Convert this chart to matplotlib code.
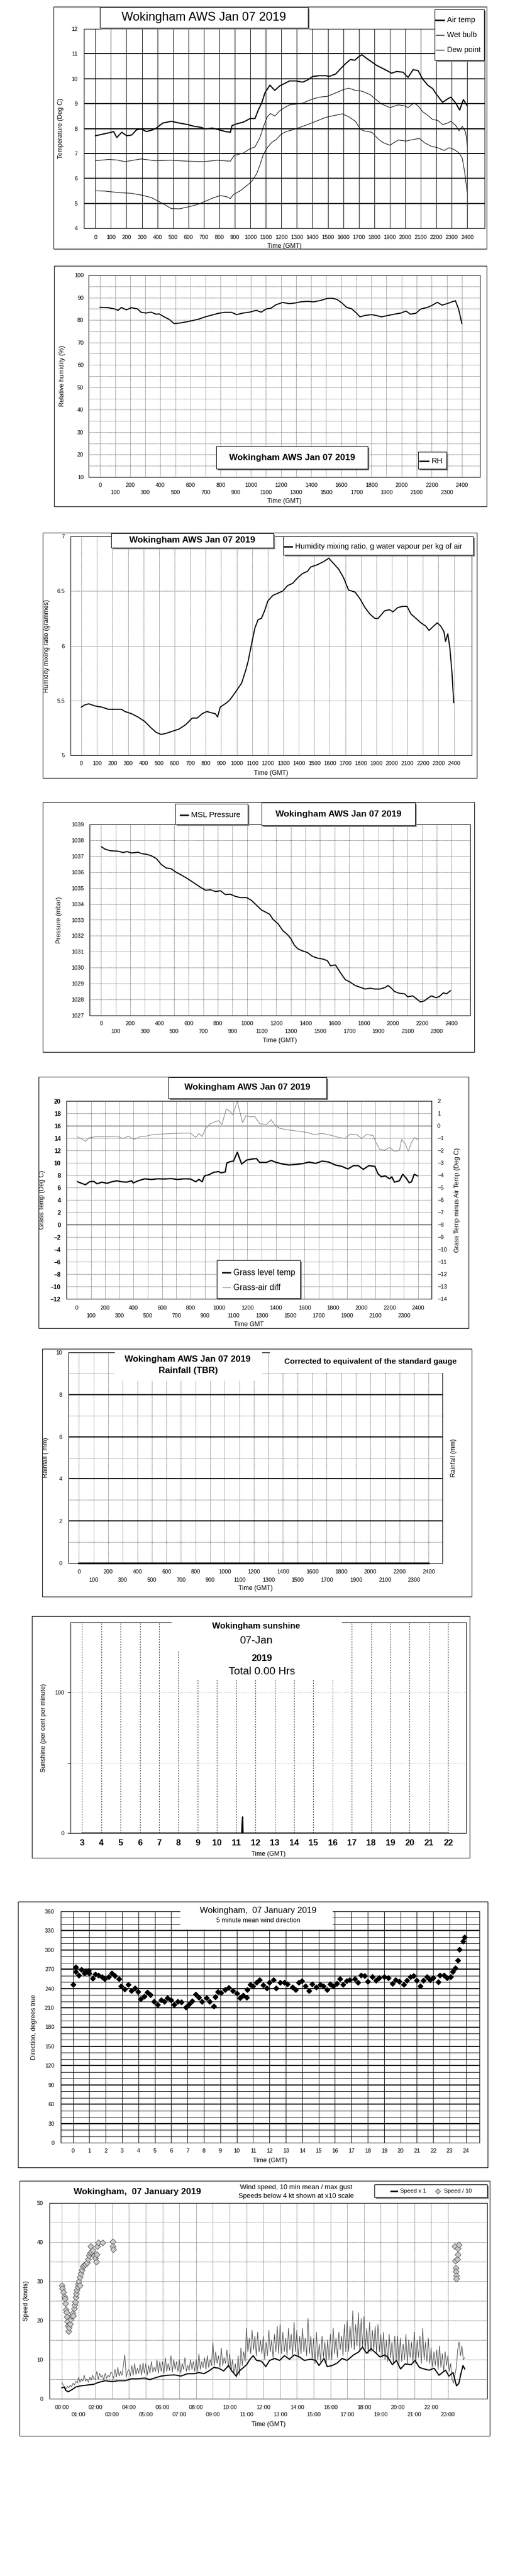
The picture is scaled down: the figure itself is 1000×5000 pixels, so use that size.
import numpy as np
import matplotlib
matplotlib.use("Agg")
import matplotlib.pyplot as plt
from matplotlib.patches import Rectangle
from matplotlib.lines import Line2D

plt.rcParams['font.family'] = ['Liberation Sans', 'DejaVu Sans']

# ---------------- data ----------------
# time axis of the AWS charts is hhmm on a 0..2400 scale
air_t = [0, 102, 117, 138, 170, 202, 234, 266, 297, 329, 372, 393, 435, 489, 542, 595, 637, 680, 712, 754,
         797, 839, 871, 882, 913, 956, 998, 1030, 1051, 1073, 1094, 1126, 1158, 1189, 1221, 1253, 1296, 1338, 1370, 1402,
         1444, 1487, 1508, 1551, 1582, 1614, 1646, 1674, 1699, 1720, 1752, 1784, 1816, 1848, 1880, 1912, 1944, 1986, 2018, 2050,
         2082, 2113, 2145, 2177, 2198, 2220, 2241, 2273, 2294, 2326, 2351, 2375, 2400]
air_temp = [7.71, 7.85, 7.88, 7.64, 7.85, 7.71, 7.74, 7.95, 7.98, 7.88, 7.95, 8.02, 8.22, 8.29, 8.22, 8.16, 8.09, 8.05, 7.98, 8.02,
            7.95, 7.88, 7.85, 8.12, 8.19, 8.26, 8.40, 8.40, 8.74, 9.02, 9.43, 9.74, 9.53, 9.71, 9.81, 9.91, 9.91, 9.86, 9.95, 10.09,
            10.12, 10.12, 10.09, 10.19, 10.40, 10.60, 10.77, 10.74, 10.88, 10.96, 10.81, 10.67, 10.53, 10.43, 10.33, 10.22, 10.29, 10.26, 10.05, 10.36,
            10.33, 9.98, 9.74, 9.60, 9.40, 9.22, 9.05, 9.19, 9.26, 9.02, 8.74, 9.16, 8.91]

wet_t = [0, 85, 138, 191, 255, 297, 382, 489, 595, 701, 786, 871, 896, 956, 998, 1030, 1062, 1083, 1109, 1130,
         1158, 1189, 1221, 1253, 1296, 1338, 1391, 1444, 1497, 1551, 1604, 1636, 1678, 1720, 1774, 1805, 1848, 1901, 1954, 1997,
         2018, 2056, 2082, 2113, 2145, 2177, 2209, 2241, 2273, 2294, 2326, 2347, 2368, 2390, 2400]
wet_bulb = [6.71, 6.76, 6.74, 6.67, 6.74, 6.78, 6.71, 6.73, 6.69, 6.67, 6.73, 6.69, 6.92, 7.02, 7.19, 7.26, 7.64, 8.05, 8.47, 8.60,
            8.50, 8.71, 8.84, 8.95, 8.98, 9.02, 9.16, 9.26, 9.29, 9.43, 9.57, 9.62, 9.53, 9.50, 9.36, 9.19, 8.98, 8.84, 8.95, 8.91,
            8.84, 9.03, 8.91, 8.67, 8.53, 8.36, 8.33, 8.16, 8.22, 8.29, 8.12, 7.91, 8.09, 7.85, 7.33]

dew_t = [0, 64, 149, 234, 297, 361, 404, 446, 489, 542, 595, 658, 712, 765, 807, 850, 871, 892, 935, 977,
         1009, 1041, 1062, 1083, 1109, 1136, 1168, 1200, 1232, 1274, 1317, 1370, 1423, 1487, 1540, 1593, 1636, 1678, 1710, 1731,
         1784, 1827, 1859, 1901, 1954, 2007, 2050, 2092, 2124, 2167, 2209, 2251, 2283, 2315, 2347, 2368, 2383, 2400]
dew_point = [5.50, 5.49, 5.43, 5.40, 5.33, 5.23, 5.09, 4.95, 4.79, 4.78, 4.85, 4.95, 5.09, 5.23, 5.31, 5.26, 5.19, 5.36, 5.50, 5.71,
             5.88, 6.19, 6.54, 6.95, 7.23, 7.43, 7.57, 7.78, 7.88, 7.95, 8.04, 8.16, 8.29, 8.45, 8.52, 8.59, 8.47, 8.29, 7.98, 7.91,
             7.85, 7.57, 7.43, 7.33, 7.54, 7.50, 7.56, 7.60, 7.43, 7.29, 7.23, 7.12, 7.23, 7.16, 7.02, 6.81, 6.26, 5.43]

rh_t = [0, 55, 98, 120, 142, 175, 207, 247, 273, 305, 338, 371, 393, 425, 458, 491, 524, 567, 611, 655,
        698, 742, 786, 829, 873, 906, 949, 993, 1036, 1069, 1102, 1135, 1167, 1211, 1255, 1298, 1331, 1375, 1418, 1462,
        1506, 1538, 1571, 1604, 1636, 1669, 1702, 1724, 1756, 1800, 1833, 1866, 1909, 1953, 1996, 2029, 2058, 2095, 2127, 2171,
        2204, 2237, 2269, 2302, 2335, 2357, 2378, 2400]
rh = [85.6, 85.5, 84.9, 84.3, 85.6, 84.5, 85.5, 85.0, 83.4, 83.1, 83.5, 82.6, 82.7, 81.4, 80.3, 78.4, 78.6, 79.1, 79.7, 80.4,
      81.4, 82.2, 83.0, 83.4, 83.4, 82.4, 83.1, 83.5, 84.3, 83.5, 84.9, 85.3, 86.8, 87.8, 87.3, 87.6, 88.1, 88.3, 88.1, 88.7,
      89.6, 89.7, 89.2, 87.6, 85.6, 85.0, 83.0, 81.4, 82.0, 82.4, 82.0, 81.4, 82.0, 82.6, 83.1, 84.0, 82.6, 83.0, 84.9, 85.6,
      86.6, 87.9, 86.6, 87.3, 88.1, 88.6, 84.9, 78.4]

mix_t = [0, 21, 47, 89, 131, 174, 216, 258, 280, 322, 364, 407, 449, 481, 513, 544, 587, 629, 672, 714,
         746, 778, 809, 831, 862, 877, 894, 936, 958, 989, 1032, 1059, 1074, 1095, 1117, 1138, 1159, 1180, 1201, 1233,
         1265, 1297, 1328, 1360, 1392, 1424, 1456, 1477, 1519, 1561, 1593, 1625, 1657, 1689, 1720, 1763, 1794, 1826, 1858, 1890,
         1911, 1953, 1985, 2006, 2038, 2070, 2097, 2123, 2155, 2186, 2218, 2239, 2261, 2292, 2314, 2335, 2345, 2360, 2373, 2386, 2398]
mix_ratio = [5.44, 5.46, 5.47, 5.45, 5.44, 5.42, 5.42, 5.42, 5.40, 5.38, 5.35, 5.31, 5.25, 5.21, 5.19, 5.20, 5.22, 5.24, 5.28, 5.34,
             5.34, 5.38, 5.40, 5.39, 5.38, 5.35, 5.44, 5.48, 5.51, 5.57, 5.66, 5.78, 5.86, 6.01, 6.16, 6.24, 6.25, 6.32, 6.41, 6.46,
             6.48, 6.50, 6.55, 6.57, 6.62, 6.66, 6.68, 6.72, 6.74, 6.77, 6.80, 6.75, 6.70, 6.62, 6.51, 6.49, 6.43, 6.35, 6.29, 6.25,
             6.25, 6.32, 6.33, 6.31, 6.35, 6.36, 6.36, 6.29, 6.25, 6.21, 6.18, 6.14, 6.17, 6.21, 6.18, 6.13, 6.04, 6.11, 5.98, 5.77, 5.48]

pres_t = [2, 25, 63, 108, 153, 176, 209, 254, 277, 311, 345, 378, 412, 446, 480, 514, 547, 581, 615, 649,
          682, 716, 750, 784, 818, 851, 885, 919, 953, 998, 1032, 1065, 1099, 1133, 1155, 1178, 1212, 1245, 1279, 1302,
          1324, 1347, 1381, 1414, 1448, 1482, 1516, 1550, 1572, 1606, 1640, 1673, 1707, 1741, 1775, 1809, 1842, 1876, 1910, 1944,
          1966, 1989, 2011, 2045, 2079, 2101, 2135, 2158, 2187, 2214, 2236, 2264, 2293, 2315, 2345, 2367, 2394]
pressure = [1037.59, 1037.45, 1037.34, 1037.32, 1037.23, 1037.29, 1037.20, 1037.25, 1037.16, 1037.12,
            1037.02, 1036.85, 1036.48, 1036.26, 1036.21, 1035.99, 1035.83, 1035.65, 1035.45, 1035.24,
            1035.04, 1034.86, 1034.89, 1034.78, 1034.83, 1034.59, 1034.61, 1034.48, 1034.40, 1034.40,
            1034.21, 1033.92, 1033.62, 1033.46, 1033.35, 1033.03, 1032.76, 1032.33, 1032.06, 1031.79,
            1031.41, 1031.19, 1031.05, 1030.95, 1030.71, 1030.60, 1030.55, 1030.44, 1030.12, 1030.17,
            1029.68, 1029.25, 1029.09, 1028.88, 1028.77, 1028.66, 1028.71, 1028.66, 1028.66, 1028.75,
            1028.88, 1028.71, 1028.50, 1028.39, 1028.36, 1028.17, 1028.23, 1028.07, 1027.85, 1027.91,
            1028.07, 1028.23, 1028.12, 1028.17, 1028.42, 1028.36, 1028.55]

grass_t = [7, 35, 62, 90, 120, 143, 178, 212, 247, 282, 316, 351, 386, 397, 432, 478, 524, 570, 617, 663,
           709, 755, 801, 836, 859, 882, 898, 928, 963, 998, 1014, 1044, 1055, 1078, 1102, 1129, 1159, 1194, 1229, 1263,
           1286, 1333, 1367, 1402, 1448, 1494, 1540, 1587, 1633, 1679, 1725, 1771, 1818, 1864, 1905, 1945, 1979, 2014, 2053, 2095,
           2118, 2141, 2168, 2199, 2215, 2233, 2268, 2291, 2314, 2337, 2353, 2372, 2395]
grass_temp = [6.93, 6.68, 6.45, 6.93, 7.00, 6.61, 6.87, 6.68, 6.93, 7.09, 6.93, 6.87, 7.09, 6.74, 7.09, 7.41, 7.31, 7.41, 7.38, 7.44,
              7.31, 7.41, 7.38, 6.93, 7.31, 6.93, 7.89, 8.05, 8.46, 8.59, 8.37, 8.53, 9.96, 10.18, 10.28, 11.71, 9.80, 10.44, 10.60, 10.69,
              10.06, 10.06, 10.38, 10.06, 9.80, 9.64, 9.74, 9.86, 10.12, 9.90, 10.28, 10.12, 9.64, 9.42, 9.00, 9.54, 9.54, 8.94, 9.54, 9.42,
              8.21, 7.73, 7.89, 7.41, 7.73, 6.87, 7.09, 8.14, 7.57, 6.77, 6.93, 8.14, 7.89]

diff_t = [7, 35, 62, 90, 132, 178, 224, 282, 328, 363, 404, 443, 490, 536, 582, 628, 686, 744, 801, 836,
          859, 882, 905, 940, 975, 998, 1021, 1051, 1074, 1097, 1115, 1129, 1148, 1166, 1189, 1217, 1252, 1286, 1333, 1367,
          1390, 1425, 1471, 1540, 1610, 1667, 1725, 1794, 1841, 1887, 1921, 1968, 2002, 2037, 2083, 2106, 2129, 2164, 2199, 2233,
          2268, 2284, 2307, 2330, 2353, 2376, 2400]
grass_air_diff = [-0.90, -1.06, -1.27, -0.95, -0.90, -0.87, -0.90, -0.84, -1.03, -0.84, -1.11, -0.90, -0.84, -0.71, -0.68, -0.66, -0.63, -0.60, -0.60, -0.95,
                  -0.63, -0.87, -0.23, 0.17, 0.33, 0.41, 0.09, 1.36, 1.20, 0.88, 1.52, 1.97, 1.04, 0.25, 0.80, 0.73, 0.73, 0.17, 0.09, 0.49,
                  0.09, -0.20, -0.31, -0.42, -0.52, -0.71, -0.63, -0.79, -0.95, -1.03, -0.68, -0.71, -1.03, -0.71, -0.79, -1.43, -1.90, -1.98, -1.75, -2.06,
                  -2.01, -1.11, -1.43, -2.06, -1.35, -0.95, -1.16]

rain_t = [0, 2400]
rain_mm = [0.0, 0.0]

# sunshine, hours GMT
sun_h = [3.0, 11.29, 11.30, 11.33, 11.35, 22.0]
sun_pct = [0, 0, 5.6, 11.5, 0, 0]

# wind direction, hours GMT
dir_h = [0.0, 0.16, 0.18, 0.36, 0.52, 0.72, 0.76, 0.96, 1.0, 1.2, 1.37, 1.57, 1.77, 1.93, 2.17, 2.37, 2.57, 2.81, 2.93, 3.17,
         3.37, 3.57, 3.78, 3.98, 4.14, 4.34, 4.54, 4.74, 4.94, 5.18, 5.38, 5.58, 5.78, 5.98, 6.18, 6.39, 6.63, 6.89, 7.09, 7.29,
         7.49, 7.69, 7.89, 8.15, 8.35, 8.59, 8.69, 8.84, 9.04, 9.3, 9.5, 9.76, 10.0, 10.2, 10.4, 10.6, 10.64, 10.84, 11.0, 11.2,
         11.4, 11.6, 11.85, 12.0, 12.25, 12.4, 12.65, 12.9, 13.1, 13.4, 13.6, 13.8, 13.98, 14.2, 14.4, 14.6, 14.86, 15.1, 15.3, 15.5,
         15.7, 15.9, 16.1, 16.3, 16.5, 16.7, 16.9, 17.2, 17.4, 17.6, 17.8, 18.0, 18.27, 18.5, 18.7, 19.0, 19.24, 19.5, 19.7, 19.9,
         20.2, 20.4, 20.6, 20.8, 21.0, 21.2, 21.4, 21.6, 21.8, 22.0, 22.3, 22.4, 22.65, 22.85, 23.05, 23.2, 23.35, 23.5, 23.6, 23.8, 23.9]
dir_deg = [246.5, 273.7, 266.5, 260.8, 269, 263.6, 266.5, 268, 263.6, 255.6, 262, 260.8, 258, 255, 258, 263.6, 259.4, 255, 243.6, 239.3,
           246, 236.5, 240.8, 235, 223.6, 228, 234.5, 229.9, 219.3, 215, 222.2, 219.3, 225, 222.2, 215, 219.3, 218.5, 210.8, 215.6, 220.2,
           230.8, 225.9, 219.3, 225, 219.3, 212.8, 227, 235, 233.6, 237.9, 241.3, 236.5, 232.2, 225, 229.3, 226.5, 238, 246.5, 243.6, 249.3,
           253.6, 245, 240.8, 249.3, 253.6, 240.8, 249.3, 249.3, 247, 242.2, 238, 249.3, 251.6, 243.6, 236.5, 247, 242.2, 246.5, 243.6, 238,
           247, 243.6, 248, 255, 246.5, 251.6, 253.6, 255, 249.3, 260.2, 259.4, 250.8, 258, 252.2, 256.5, 258, 256.5, 248, 253.6, 250.8,
           246.5, 252.2, 258, 259.4, 252.2, 243.6, 252.8, 258, 253.6, 256.5, 250, 260.8, 260.2, 256.5, 258, 266.5, 272.2, 283.7, 300.8, 313.7, 320.3]

# wind speed, hours GMT
mean_h = [0, 0.14, 0.24, 0.39, 0.63, 0.82, 1.12, 1.51, 1.9, 2.19, 2.59, 2.98, 3.37, 3.76, 4.15, 4.55, 4.94, 5.23, 5.53, 5.92,
          6.31, 6.70, 7.09, 7.48, 7.88, 8.17, 8.46, 8.76, 9.05, 9.35, 9.64, 9.93, 10.13, 10.38, 10.58, 10.82, 11.01, 11.21, 11.40, 11.60,
          11.89, 12.15, 12.38, 12.68, 12.97, 13.26, 13.56, 13.85, 14.15, 14.44, 14.83, 15.13, 15.32, 15.62, 15.81, 16.10, 16.40, 16.69, 16.99, 17.38,
          17.67, 17.91, 18.16, 18.42, 18.65, 18.95, 19.24, 19.44, 19.69, 19.93, 20.18, 20.45, 20.81, 21.04, 21.30, 21.59, 21.88, 22.18, 22.47, 22.67,
          22.86, 23.06, 23.31, 23.51, 23.65, 23.79, 23.90, 24.0]
mean_kt = [2.8, 3.0, 2.1, 1.8, 2.4, 3.0, 3.3, 3.5, 3.7, 4.2, 4.6, 4.4, 4.6, 4.6, 5.1, 5.1, 5.3, 4.9, 5.3, 5.8,
           6.0, 6.1, 5.8, 6.4, 6.4, 6.7, 6.4, 7.1, 8.0, 7.8, 7.1, 8.5, 7.1, 5.8, 7.1, 8.0, 8.7, 10.1, 11.0, 9.8,
           9.6, 8.2, 9.8, 10.3, 9.8, 11.0, 10.1, 11.2, 10.7, 9.8, 10.1, 9.8, 8.5, 10.3, 8.2, 8.5, 9.1, 10.3, 9.8, 11.2,
           11.9, 13.2, 11.6, 12.8, 11.9, 10.7, 11.2, 10.5, 8.7, 9.8, 7.6, 8.9, 8.7, 9.8, 8.0, 7.6, 7.3, 7.8, 6.0, 6.7,
           7.3, 5.8, 6.7, 3.3, 3.9, 6.7, 8.5, 7.6]

# max gust, one value every 5 minutes, one row per hour
gust_kt = [
    4.2, 3.5, 3.0, 2.5, 3.2, 2.8, 3.5, 3.0, 4.0, 3.5, 4.5, 4.0,
    5.5, 4.2, 5.0, 4.5, 6.0, 4.5, 5.0, 4.2, 5.5, 4.8, 6.0, 5.0,
    5.2, 7.0, 5.0, 6.5, 5.5, 6.0, 4.8, 6.5, 5.2, 6.0, 5.5, 6.8,
    6.5, 5.2, 7.5, 5.5, 8.0, 5.8, 7.0, 6.0, 8.5, 11.2, 5.5, 7.0,
    7.5, 5.8, 8.5, 6.0, 9.0, 6.2, 7.8, 6.5, 8.8, 6.0, 9.2, 6.5,
    9.0, 6.0, 8.5, 6.5, 9.5, 6.8, 8.0, 7.0, 10.0, 6.5, 9.5, 7.0,
    9.5, 6.5, 10.5, 7.0, 9.0, 7.2, 11.0, 6.8, 10.0, 7.5, 9.5, 7.0,
    10.0, 6.5, 9.0, 7.5, 10.5, 7.0, 8.5, 7.2, 10.0, 7.5, 9.5, 7.0,
    10.0, 7.0, 11.5, 7.5, 9.5, 8.0, 10.5, 7.5, 11.0, 8.0, 10.0, 8.5,
    14.5, 8.5, 12.0, 9.0, 11.0, 8.0, 13.0, 8.5, 10.5, 9.0, 12.5, 8.0,
    11.5, 7.0, 10.0, 6.5, 9.0, 5.5, 11.0, 6.0, 13.0, 8.5, 12.0, 9.5,
    18.0, 12.0, 15.5, 11.5, 17.5, 12.5, 16.0, 11.0, 17.0, 12.0, 15.0, 11.5,
    16.0, 10.0, 14.5, 11.0, 17.5, 12.0, 15.0, 10.5, 16.5, 12.0, 18.5, 11.5,
    19.0, 11.5, 17.0, 12.0, 15.5, 11.0, 18.0, 12.5, 16.5, 11.0, 19.5, 12.0,
    17.5, 10.5, 16.0, 11.5, 18.0, 12.0, 15.5, 11.0, 20.5, 11.5, 16.0, 10.0,
    15.5, 9.0, 17.0, 10.0, 14.0, 9.5, 16.0, 10.5, 14.5, 9.0, 15.0, 10.0,
    16.5, 10.0, 18.0, 11.5, 15.5, 10.5, 17.0, 12.5, 16.0, 11.0, 19.0, 12.0,
    20.0, 12.0, 18.5, 13.0, 22.5, 12.5, 19.0, 13.5, 22.0, 12.0, 20.5, 13.0,
    21.0, 12.5, 18.0, 11.5, 19.5, 12.0, 17.5, 12.5, 18.5, 11.5, 19.0, 12.0,
    16.5, 10.5, 17.0, 10.0, 15.0, 9.5, 16.5, 10.5, 14.5, 9.0, 16.0, 10.0,
    16.0, 9.0, 15.5, 9.5, 14.0, 10.0, 16.5, 9.0, 15.0, 10.5, 14.5, 9.5,
    17.0, 9.0, 15.0, 10.5, 16.0, 9.0, 18.0, 10.0, 14.5, 9.5, 15.5, 9.0,
    13.0, 8.0, 12.0, 8.5, 12.5, 7.5, 13.5, 8.0, 11.5, 7.0, 12.0, 8.5,
    11.0, 7.0, 9.0, 5.0, 4.0, 6.0, 8.0, 12.5, 14.5, 11.0, 13.5, 10.0,
    10.5]
gust_h = np.arange(len(gust_kt)) / 12.0

# low speeds shown at x10 scale
low_h = [0, 0.04, 0.08, 0.14, 0.18, 0.2, 0.24, 0.27, 0.29, 0.33, 0.37, 0.39, 0.43, 0.49, 0.53, 0.59, 0.63, 0.67, 0.72, 0.76,
         0.78, 0.82, 0.86, 0.90, 0.94, 0.98, 1.02, 1.06, 1.08, 1.14, 1.18, 1.25, 1.33, 1.41, 1.49, 1.57, 1.63, 1.68, 1.72, 1.76,
         1.84, 1.92, 2.0, 2.04, 2.08, 2.12, 2.16, 2.43, 3.02, 3.04, 3.06,
         23.41, 23.45, 23.47, 23.47, 23.49, 23.51, 23.55, 23.59, 23.59, 23.65]
low_x10 = [28.9, 28.2, 27.3, 26.1, 25.5, 24.3, 22.7, 22.1, 20.9, 19.8, 18.7, 17.3, 18.2, 19.1, 20.2, 21.2, 21.8, 21.2, 23.0, 23.9,
           24.8, 25.9, 26.8, 27.7, 28.6, 29.3, 30.0, 28.9, 31.1, 32.0, 32.9, 33.8, 34.1, 34.3, 34.7, 35.7, 36.6, 37.3, 38.9, 37.5,
           37.9, 36.6, 35.9, 35.0, 36.8, 38.9, 39.9, 39.9, 40.1, 39.0, 38.1,
           38.9, 35.2, 33.4, 32.5, 31.4, 30.7, 35.7, 36.8, 38.4, 39.3]

hhmm_even = list(range(0, 2401, 200))
hhmm_odd = list(range(100, 2400, 200))
hhmm_all = list(range(0, 2401, 100))
sun_hours = list(range(3, 23))
dir_hours = list(range(0, 25))
speed_even = list(range(0, 24, 2))
speed_odd = list(range(1, 24, 2))

# ---------------- layout helpers (pixel coords, origin top-left) ----------------
W, H = 1000, 5000
fig = plt.figure(figsize=(10, 50), dpi=100)

def fx(x):
    return x / W

def fy(y):
    return 1 - y / H

def make_ax(x0, y0, x1, y1):
    ax = fig.add_axes([fx(x0), fy(y1), (x1 - x0) / W, (y1 - y0) / H])
    ax.px = (x0, y0, x1, y1)
    for s in ax.spines.values():
        s.set_linewidth(0.8)
    ax.tick_params(which='both', length=0, labelsize=8)
    return ax

def rect(x0, y0, x1, y1, fc='white', ec='black', z=5, fill=True):
    fig.add_artist(Rectangle((fx(x0), fy(y1)), (x1 - x0) / W, (y1 - y0) / H,
                             transform=fig.transFigure, fill=fill, fc=fc, ec=ec, lw=0.8, zorder=z))

def frame(x0, y0, x1, y1):
    rect(x0, y0, x1, y1, fill=False, z=1)

def box(x0, y0, x1, y1, shadow=True, edge=True):
    if shadow:
        rect(x0 + 3, y0 + 3, x1 + 3, y1 + 3, fc='#808080', ec='none', z=5)
    rect(x0, y0, x1, y1, ec='black' if edge else 'none', z=5.1)

def put(x, y, s, size, ha='center', weight='normal'):
    fig.text(fx(x), fy(y), s, fontsize=size, ha=ha, va='center', weight=weight, zorder=7)

def key(x, y, s, size, length=16, **style):
    fig.add_artist(Line2D([fx(x), fx(x + length)], [fy(y), fy(y)], transform=fig.transFigure, zorder=7, **style))
    put(x + length + 6, y, s, size, ha='left')

def labels(ax, xl=None, xl_y=None, yl=None, yl_x=None, size=9):
    x0, y0, x1, y1 = ax.px
    if xl:
        ax.set_xlabel(xl, fontsize=size)
        ax.xaxis.set_label_coords(0.5, (y1 - xl_y) / (y1 - y0))
        ax.xaxis.label.set_va('center')
    if yl:
        ax.set_ylabel(yl, fontsize=size)
        ax.yaxis.set_label_coords((yl_x - x0) / (x1 - x0), 0.5)
        ax.yaxis.label.set_va('center')

def two_rows(ax, pad1, pad2, size=8):
    ax.set_xticks(hhmm_even, [str(v) for v in hhmm_even])
    ax.set_xticks(hhmm_odd, [str(v) for v in hhmm_odd], minor=True)
    ax.tick_params(axis='x', which='major', pad=pad1, labelsize=size)
    ax.tick_params(axis='x', which='minor', pad=pad2, labelsize=size)

dotted = dict(color='black', lw=0.6, ls=(0, (1, 1.5)))

# ---------------- 1. temperatures ----------------
frame(104, 13, 945, 483)
ax = make_ax(163, 56, 941, 443)
ax.plot(air_t, air_temp, color='black', lw=1.6)
ax.plot(wet_t, wet_bulb, color='black', lw=0.8)
ax.plot(dew_t, dew_point, color='black', lw=0.8)
ax.set_xlim(-74, 2512)
ax.set_ylim(4, 12)
ax.set_yticks(range(4, 13))
ax.set_xticks(hhmm_all, [str(v) for v in hhmm_all])
ax.tick_params(axis='x', pad=9)
ax.tick_params(axis='y', pad=9)
ax.grid(axis='x', color='black', lw=0.7)
for v in range(5, 12):
    ax.axhline(v, color='black', lw=1.5)
labels(ax, 'Time (GMT)', 478, 'Temperature (Deg C)', 118)
box(194, 14, 598, 54)
put(396, 34, 'Wokingham AWS Jan 07 2019', 17)
box(844, 18, 940, 117)
key(846, 39, 'Air temp', 10.5, color='black', lw=2)
key(846, 68, 'Wet bulb', 10.5, color='black', lw=0.8)
key(846, 97, 'Dew point', 10.5, color='black', lw=0.8)

# ---------------- 2. relative humidity ----------------
frame(105, 516, 945, 983)
ax = make_ax(172, 534, 932, 926)
ax.plot(rh_t, rh, color='black', lw=1.5)
ax.set_xlim(-76, 2520)
ax.set_ylim(10, 100)
ax.set_yticks(range(10, 101, 10))
ax.set_yticks(range(15, 100, 10), minor=True)
two_rows(ax, 8, 18)
ax.tick_params(axis='y', pad=7)
ax.grid(which='both', **dotted)
labels(ax, 'Time (GMT)', 973, 'Relative humidity (%)', 121)
box(420, 866, 714, 910)
put(567, 888, 'Wokingham AWS Jan 07 2019', 12.5, weight='bold')
box(812, 877, 867, 910)
key(815, 895, 'RH', 11, length=17, color='black', lw=2)

# ---------------- 3. mixing ratio ----------------
frame(83, 1034, 926, 1510)
ax = make_ax(137, 1041, 916, 1466)
ax.plot(mix_t, mix_ratio, color='black', lw=1.5)
ax.set_xlim(-70, 2514)
ax.set_ylim(5, 7)
ax.set_yticks([5, 5.5, 6, 6.5, 7], ['5', '5.5', '6', '6.5', '7'])
ax.set_xticks(hhmm_all, [str(v) for v in hhmm_all])
ax.tick_params(axis='x', pad=8)
ax.tick_params(axis='y', pad=8)
ax.grid(**dotted)
labels(ax, 'Time (GMT)', 1501, 'Humidity mixing ratio (grammes)', 91)
box(216, 1035, 531, 1063)
put(373, 1049, 'Wokingham AWS Jan 07 2019', 12.5, weight='bold')
box(550, 1041, 919, 1077)
key(552, 1061, 'Humidity mixing ratio, g water vapour per kg of air', 10.5, length=15, color='black', lw=2)

# ---------------- 4. pressure ----------------
frame(83, 1557, 921, 2042)
ax = make_ax(174, 1600, 913, 1971)
ax.plot(pres_t, pressure, color='black', lw=1.5)
ax.set_xlim(-79, 2529)
ax.set_ylim(1027, 1039)
ax.set_yticks(range(1027, 1040))
two_rows(ax, 8, 19)
ax.tick_params(axis='y', pad=8)
ax.grid(which='both', **dotted)
labels(ax, 'Time (GMT)', 2020, 'Pressure (mbar)', 115)
box(340, 1560, 481, 1600)
key(350, 1582, 'MSL Pressure', 11, length=15, color='black', lw=2)
box(508, 1558, 806, 1602)
put(657, 1580, 'Wokingham AWS Jan 07 2019', 12.5, weight='bold')

# ---------------- 5. grass temperature ----------------
frame(75, 2090, 910, 2578)
ax = make_ax(129, 2137, 838, 2521)
ax.plot(grass_t, grass_temp, color='black', lw=1.8, zorder=4)
ax.set_xlim(-72, 2494)
ax.set_ylim(-12, 20)
ax.set_yticks(range(-12, 21, 2))
for t in ax.get_yticklabels():
    t.set_weight('bold')
two_rows(ax, 9, 20)
ax.tick_params(axis='y', pad=8, labelsize=8.5)
ax.grid(which='both', **dotted)
ax.axhline(0, color='black', lw=0.8)
ax.axhline(16, color='black', lw=0.8)
labels(ax, 'Time GMT', 2571, 'Grass Temp (Deg C)', 82)
axr = ax.twinx()
axr.px = ax.px
axr.plot(diff_t, grass_air_diff, color='#808080', lw=0.8)
axr.set_ylim(-14, 2)
axr.set_yticks(range(-14, 3))
axr.tick_params(length=0, labelsize=8, pad=8)
labels(axr, yl='Grass Temp minus Air Temp (Deg C)', yl_x=888)
box(327, 2091, 634, 2132)
put(480, 2111, 'Wokingham AWS Jan 07 2019', 12.5, weight='bold')
box(421, 2446, 583, 2520)
key(432, 2470, 'Grass level temp', 11.5, length=15, color='black', lw=2)
key(432, 2499, 'Grass-air diff', 11.5, length=15, color='#808080', lw=0.8)

# ---------------- 6. rainfall ----------------
frame(82, 2618, 916, 3099)
ax = make_ax(133, 2625, 859, 3034)
ax.plot(rain_t, rain_mm, color='black', lw=2.5, clip_on=False)
ax.set_xlim(-72, 2494)
ax.set_ylim(0, 10)
ax.set_yticks(range(0, 11, 2))
ax.set_yticks(range(1, 10, 2), minor=True)
two_rows(ax, 9, 20)
ax.tick_params(axis='y', pad=9)
ax.grid(which='both', **dotted)
for v in range(2, 9, 2):
    ax.axhline(v, color='black', lw=1.6)
labels(ax, 'Time (GMT)', 3083, 'Rainfall ( mm)', 89)
axr = ax.twinx()
axr.px = ax.px
axr.set_yticks([])
labels(axr, yl='Rainfall (mm)', yl_x=881)
box(223, 2622, 509, 2680, shadow=False, edge=False)
box(524, 2622, 870, 2665, shadow=False, edge=False)
put(364, 2638, 'Wokingham AWS Jan 07 2019', 12.5, weight='bold')
put(366, 2660, 'Rainfall (TBR)', 12.5, weight='bold')
put(719, 2643, 'Corrected to equivalent of the standard gauge', 11, weight='bold')

# ---------------- 7. sunshine ----------------
frame(62, 3137, 912, 3606)
ax = make_ax(137, 3149, 905, 3558)
ax.plot(sun_h, sun_pct, color='black', lw=1.8)
ax.set_xlim(2.4, 22.93)
ax.set_ylim(0, 150)
ax.set_yticks([0, 50, 100], ['0', '', '100'])
ax.set_xticks(sun_hours, [str(h) for h in sun_hours])
ax.tick_params(axis='x', pad=9, labelsize=12)
for t in ax.get_xticklabels():
    t.set_weight('bold')
ax.tick_params(axis='y', length=4, width=0.8, pad=5, direction='out')
ax.grid(axis='x', color='black', lw=0.6, ls=(0, (3, 3)))
for v in (50, 100):
    ax.axhline(v, color='#b0b0b0', lw=0.8, ls=(0, (1, 1.5)))
labels(ax, 'Time (GMT)', 3599, 'Sunshine (per cent per minute)', 85)
box(333, 3146, 664, 3205, shadow=False, edge=False)
box(365, 3205, 675, 3261, shadow=False, edge=False)
put(497, 3157, 'Wokingham sunshine', 12, weight='bold')
put(497, 3184, '07-Jan', 15)
put(508, 3220, '2019', 13, weight='bold')
put(508, 3245, 'Total 0.00 Hrs', 15)

# ---------------- 8. wind direction ----------------
frame(35, 3691, 947, 4207)
ax = make_ax(118, 3710, 931, 4159)
ax.plot(dir_h, dir_deg, ls='none', marker='D', ms=5.5, color='black', zorder=4)
ax.set_xlim(-0.74, 24.82)
ax.set_ylim(0, 360)
ax.set_yticks(range(0, 361, 30))
ax.set_yticks(range(0, 361, 10), minor=True)
ax.set_xticks(dir_hours, [str(h) for h in dir_hours])
ax.tick_params(axis='x', pad=8)
ax.tick_params(axis='y', pad=9)
ax.grid(axis='x', color='black', lw=0.7)
ax.grid(axis='y', which='minor', color='black', lw=0.7)
for v in range(30, 331, 30):
    ax.axhline(v, color='black', lw=1.6)
labels(ax, 'Time (GMT)', 4194, 'Direction, degrees true', 66)
box(350, 3707, 646, 3745, shadow=False, edge=False)
put(501, 3709, 'Wokingham,  07 January 2019', 12)
put(501, 3728, '5 minute mean wind direction', 9)

# ---------------- 9. wind speed ----------------
frame(38, 4233, 951, 4728)
ax = make_ax(96, 4276, 946, 4656)
ax.plot(gust_h, gust_kt, color='#505050', lw=0.8)
ax.plot(mean_h, mean_kt, color='black', lw=1.6)
ax.plot(low_h, low_x10, ls='none', marker='D', ms=6, mfc='#c8c8c8', mec='#404040', mew=0.6)
ax.set_xlim(-0.74, 25.34)
ax.set_ylim(0, 50)
ax.set_yticks(range(0, 51, 10))
ax.set_yticks(range(5, 50, 10), minor=True)
ax.set_xticks(speed_even, ['%02d:00' % h for h in speed_even])
ax.set_xticks(speed_odd, ['%02d:00' % h for h in speed_odd], minor=True)
ax.tick_params(axis='x', which='major', pad=9, labelsize=8)
ax.tick_params(axis='x', which='minor', pad=19, labelsize=8)
ax.tick_params(axis='y', pad=9)
ax.grid(which='both', **dotted)
labels(ax, 'Time (GMT)', 4706, 'Speed (knots)', 51)
put(267, 4254, 'Wokingham,  07 January 2019', 12.5, weight='bold')
put(575, 4246, 'Wind speed, 10 min mean / max gust', 9.5)
put(575, 4263, 'Speeds below 4 kt shown at x10 scale', 9.5)
box(727, 4240, 946, 4265)
key(759, 4253, 'Speed x 1', 8, length=12, color='black', lw=2)
fig.add_artist(Line2D([fx(850)], [fy(4253)], transform=fig.transFigure, ls='none', marker='D', ms=5,
                      mfc='#c8c8c8', mec='#404040', mew=0.6, zorder=7))
put(862, 4253, 'Speed / 10', 8, ha='left')

fig.savefig('out.png', dpi=100)
